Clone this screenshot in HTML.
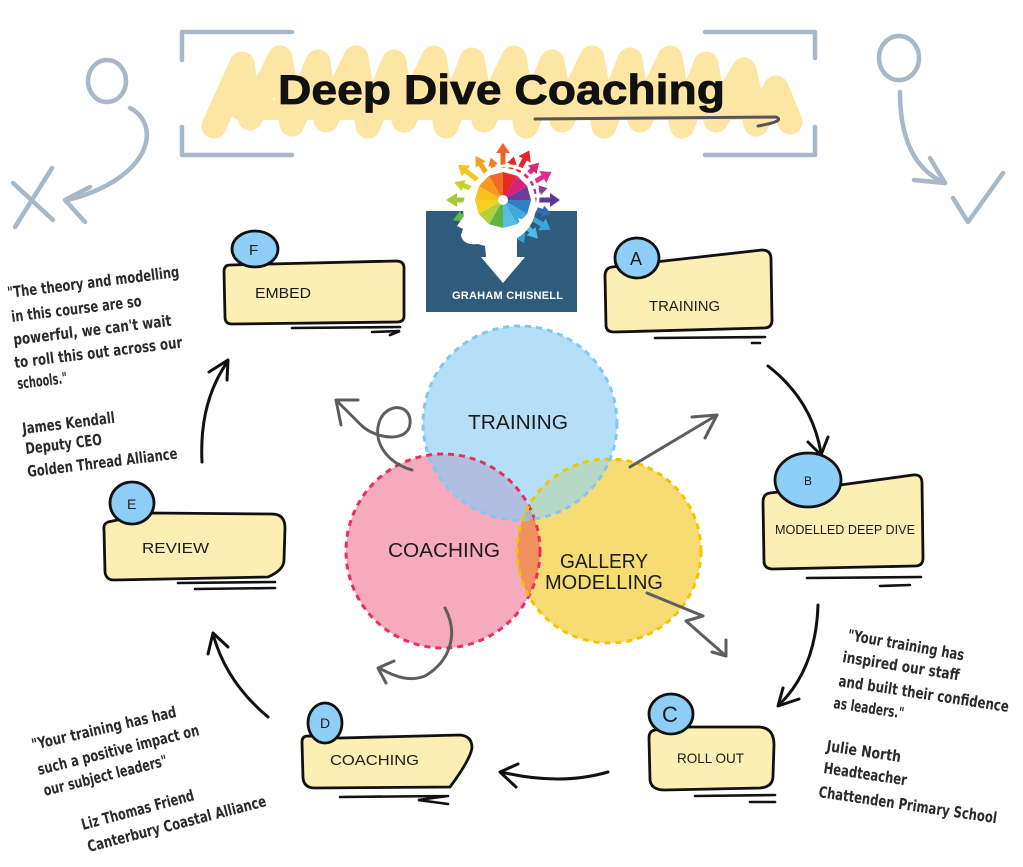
<!DOCTYPE html>
<html>
<head>
<meta charset="utf-8">
<style>
  html,body{margin:0;padding:0;background:#fff;}
  svg{display:block;}
  .lbl{font-family:"Liberation Sans",sans-serif;fill:#1c1c1c;}
  .q{font-family:"Liberation Sans Narrow","DejaVu Sans Condensed","Liberation Sans",sans-serif;font-weight:bold;fill:#2a2a2a;font-size:15.5px;}
  .box{fill:#fdeeb4;stroke:#111;stroke-width:2.8;stroke-linejoin:round;}
  .bub{fill:#8ecdf5;stroke:#111;stroke-width:2.8;}
  .ul{stroke:#111;stroke-width:2.6;stroke-linecap:round;fill:none;}
  .blk{stroke:#111;stroke-width:3;fill:none;stroke-linecap:round;stroke-linejoin:round;}
  .gry{stroke:#5e5e5e;stroke-width:3;fill:none;stroke-linecap:round;stroke-linejoin:round;}
  .deco{stroke:#a9b8c7;stroke-width:4.5;fill:none;stroke-linecap:round;stroke-linejoin:round;}
</style>
</head>
<body>
<svg width="1023" height="867" viewBox="0 0 1023 867" xmlns="http://www.w3.org/2000/svg">
  <rect x="0" y="0" width="1023" height="867" fill="#fff"/>

  <!-- Title scribble -->
  <path d="M214 126 L242 64 L250 118 L280 58 L292 124 L318 62 L326 120 L356 58 L368 126 L394 62 L404 120 L434 58 L446 126 L472 60 L484 120 L514 58 L526 126 L552 62 L562 120 L592 58 L604 126 L630 60 L640 120 L670 58 L682 126 L706 64 L716 120 L744 70 L756 124 L776 88 L790 122"
        fill="none" stroke="#fde6a4" stroke-width="25" stroke-linejoin="round" stroke-linecap="round"/>
  <path d="M240 110 L770 110" stroke="#fde6a4" stroke-width="20" stroke-linecap="round"/>
  <!-- Title brackets -->
  <path class="deco" d="M292 32 L182 32 L182 60 M182 127 L182 155 L292 155"/>
  <path class="deco" d="M705 32 L815 32 L815 58 M815 127 L815 155 L705 155"/>
  <text x="278" y="104" font-family="Liberation Sans, sans-serif" font-size="42" font-weight="bold" fill="#111" stroke="#111" stroke-width="0.8" textLength="447" lengthAdjust="spacingAndGlyphs">Deep Dive Coaching</text>
  <path d="M535 119 L776 117 Q786 121 758 126" fill="none" stroke="#555" stroke-width="3" stroke-linecap="round"/>

  <!-- Top-left deco -->
  <ellipse class="deco" cx="107" cy="81" rx="19" ry="21"/>
  <path class="deco" d="M130 108 C162 125 152 178 68 200"/>
  <path class="deco" d="M90 187 L65 200 L85 222"/>
  <path class="deco" d="M13 183 L53 220 M52 168 L15 227"/>
  <!-- Top-right deco -->
  <ellipse class="deco" cx="899" cy="58" rx="20" ry="22"/>
  <path class="deco" d="M900 92 C900 140 915 170 945 183"/>
  <path class="deco" d="M914 180 L945 183 L930 158"/>
  <path class="deco" d="M953 198 L968 222 L1003 173"/>

  <!-- Logo -->
  <rect x="426" y="211" width="151" height="101" fill="#2f5c7c"/>
  <g stroke-width="5" stroke-linecap="butt">
    <g transform="rotate(180 503 200)"><path d="M535 200 H550" stroke="#a6c83c"/><polygon points="549,193 560,200 549,207" fill="#a6c83c"/></g>
    <g transform="rotate(-160 503 200)"><path d="M535 200 H546" stroke="#c9d22a"/><polygon points="545,194 555,200 545,206" fill="#c9d22a"/></g>
    <g transform="rotate(-142 503 200)"><path d="M535 200 H551" stroke="#f7c51e"/><polygon points="550,193 560,200 550,207" fill="#f7c51e"/></g>
    <g transform="rotate(-122 503 200)"><path d="M535 200 H546" stroke="#f4a21d"/><polygon points="545,194 555,200 545,206" fill="#f4a21d"/></g>
    <g transform="rotate(-106 503 200)"><path d="M535 200 H540" stroke="#ef7d22"/><polygon points="539,195 547,200 539,205" fill="#ef7d22"/></g>
    <g transform="rotate(-90 503 200)"><path d="M535 200 H551" stroke="#e8682a"/><polygon points="550,193 560,200 550,207" fill="#e8682a"/></g>
    <g transform="rotate(-76 503 200)"><path d="M535 200 H541" stroke="#e32b2b"/><polygon points="540,195 548,200 540,205" fill="#e32b2b"/></g>
    <g transform="rotate(-62 503 200)"><path d="M535 200 H550" stroke="#e1262c"/><polygon points="549,193 559,200 549,207" fill="#e1262c"/></g>
    <g transform="rotate(-46 503 200)"><path d="M535 200 H546" stroke="#e4247a"/><polygon points="545,194 555,200 545,206" fill="#e4247a"/></g>
    <g transform="rotate(-30 503 200)"><path d="M535 200 H550" stroke="#e02e8e"/><polygon points="549,193 559,200 549,207" fill="#e02e8e"/></g>
    <g transform="rotate(-15 503 200)"><path d="M535 200 H542" stroke="#8a3c98"/><polygon points="541,195 549,200 541,205" fill="#8a3c98"/></g>
    <g transform="rotate(0 503 200)"><path d="M535 200 H551" stroke="#5b3a96"/><polygon points="550,193 560,200 550,207" fill="#5b3a96"/></g>
    <g transform="rotate(16 503 200)"><path d="M535 200 H545" stroke="#2f6db5"/><polygon points="544,194 553,200 544,206" fill="#2f6db5"/></g>
    <g transform="rotate(32 503 200)"><path d="M535 200 H550" stroke="#3aa5df"/><polygon points="549,193 559,200 549,207" fill="#3aa5df"/></g>
    <g transform="rotate(48 503 200)"><path d="M535 200 H546" stroke="#4dbde8"/><polygon points="545,194 555,200 545,206" fill="#4dbde8"/></g>
    <g transform="rotate(64 503 200)"><path d="M535 200 H543" stroke="#2aa3d8"/><polygon points="542,194 551,200 542,206" fill="#2aa3d8"/></g>
    <g transform="rotate(158 503 200)"><path d="M535 200 H548" stroke="#5cb946"/><polygon points="547,194 557,200 547,206" fill="#5cb946"/></g>
    <g transform="rotate(140 503 200)"><path d="M535 200 H543" stroke="#3aa047"/><polygon points="542,194 551,200 542,206" fill="#3aa047"/></g>
  </g>
  <!-- head silhouette -->
  <path d="M472 186 C462 196 462 208 464 216 L457 226 L463 229 L461 235 C462 243 470 245 478 244 L485 246 L486 257 L481 257 L503 283 L525 257 L517 257 L517 238 C528 232 536 220 536 205 C536 185 520 170 500 170 C488 170 478 177 472 186 Z" fill="#fff"/>
  <!-- wheel -->
  <g>
    <path d="M503 200 L531 200 L527.2 214 Z" fill="#2f7fc4"/>
    <path d="M503 200 L527.2 214 L517 224.2 Z" fill="#3fa9e0"/>
    <path d="M503 200 L517 224.2 L503 228 Z" fill="#57bde0"/>
    <path d="M503 200 L503 228 L489 224.2 Z" fill="#5db548"/>
    <path d="M503 200 L489 224.2 L478.8 214 Z" fill="#b3cf3a"/>
    <path d="M503 200 L478.8 214 L475 200 Z" fill="#f5d020"/>
    <path d="M503 200 L475 200 L478.8 186 Z" fill="#f8c21c"/>
    <path d="M503 200 L478.8 186 L489 175.8 Z" fill="#f59a1f"/>
    <path d="M503 200 L489 175.8 L503 172 Z" fill="#ee6b25"/>
    <path d="M503 200 L503 172 L517 175.8 Z" fill="#e42b2a"/>
    <path d="M503 200 L517 175.8 L527.2 186 Z" fill="#d8217c"/>
    <path d="M503 200 L527.2 186 L531 200 Z" fill="#6d3c97"/>
    <circle cx="503" cy="200" r="5" fill="#fff"/>
  </g>
  <path d="M478 186 A31 31 0 1 1 525 222" fill="none" stroke="#fff" stroke-width="3"/>
  <polygon points="518,218 531,222 524,232" fill="#fff"/>
  <text x="452" y="299" font-family="Liberation Sans, sans-serif" font-size="11" font-weight="bold" fill="#fff" textLength="111" lengthAdjust="spacing">GRAHAM CHISNELL</text>

  <!-- Venn -->
  <defs>
    <clipPath id="cBlue"><circle cx="520" cy="423" r="97"/></clipPath>
    <clipPath id="cPink"><circle cx="443" cy="551" r="97"/></clipPath>
    <clipPath id="cYel"><circle cx="609" cy="551" r="92"/></clipPath>
  </defs>
  <circle cx="443" cy="551" r="97" fill="#f5aabe"/>
  <circle cx="609" cy="551" r="92" fill="#f6dc72"/>
  <circle cx="520" cy="423" r="97" fill="#b5dff8"/>
  <g clip-path="url(#cBlue)"><circle cx="443" cy="551" r="97" fill="#b0bee2"/></g>
  <g clip-path="url(#cBlue)"><circle cx="609" cy="551" r="92" fill="#b6d9c6"/></g>
  <g clip-path="url(#cPink)"><circle cx="609" cy="551" r="92" fill="#f0915e"/></g>
  <g clip-path="url(#cPink)"><g clip-path="url(#cYel)"><circle cx="520" cy="423" r="97" fill="#b0b4b6"/></g></g>
  <circle cx="443" cy="551" r="97" fill="none" stroke="#e8305a" stroke-width="3" stroke-dasharray="6 5"/>
  <circle cx="609" cy="551" r="92" fill="none" stroke="#f2c500" stroke-width="3" stroke-dasharray="6 5"/>
  <circle cx="520" cy="423" r="97" fill="none" stroke="#7ec8f2" stroke-width="3" stroke-dasharray="6 5"/>
  <text class="lbl" x="468" y="429" font-size="20" textLength="100" lengthAdjust="spacingAndGlyphs">TRAINING</text>
  <text class="lbl" x="388" y="557" font-size="20" textLength="112" lengthAdjust="spacingAndGlyphs">COACHING</text>
  <text class="lbl" x="560" y="568" font-size="20" textLength="88" lengthAdjust="spacingAndGlyphs">GALLERY</text>
  <text class="lbl" x="545" y="589" font-size="20" textLength="118" lengthAdjust="spacingAndGlyphs">MODELLING</text>

  <!-- Gray arrows -->
  <path class="gry" d="M412 470 C385 462 372 440 380 420 C388 402 412 404 410 424 C408 442 378 440 362 426 L337 401"/>
  <path class="gry" d="M358 400 L336 400 L341 425"/>
  <path class="gry" d="M630 467 L717 415"/>
  <path class="gry" d="M692 417 L717 415 L705 438"/>
  <path class="gry" d="M647 593 L703 616 L686 621 L726 656"/>
  <path class="gry" d="M726 640 L726 656 L712 652"/>
  <path class="gry" d="M445 608 C458 632 452 660 425 676 C410 682 395 677 379 668"/>
  <path class="gry" d="M394 661 L378 668 L386 683"/>

  <!-- Black cycle arrows -->
  <path class="blk" d="M768 366 Q812 400 821 453"/>
  <path class="blk" d="M808 442 L821 455 L828 437"/>
  <path class="blk" d="M818 605 Q816 668 780 704"/>
  <path class="blk" d="M783 688 L778 706 L799 699"/>
  <path class="blk" d="M608 772 Q560 786 501 772"/>
  <path class="blk" d="M518 764 L500 772 L516 787"/>
  <path class="blk" d="M268 717 Q226 682 213 634"/>
  <path class="blk" d="M208 654 L213 633 L228 647"/>
  <path class="blk" d="M202 462 Q199 402 228 361"/>
  <path class="blk" d="M209 372 L228 360 L227 380"/>

  <!-- Box F : EMBED -->
  <path class="box" d="M270 264 L396 261 Q404 261 404 268 L404 316 Q404 322 397 322 L232 324 Q225 324 225 317 L224 272 Q224 265 230 265 Z"/>
  <ellipse class="bub" cx="255" cy="249" rx="23" ry="18"/>
  <text class="lbl" x="255" y="298" font-size="15" textLength="56" lengthAdjust="spacingAndGlyphs">EMBED</text>
  <text class="lbl" x="249" y="255" font-size="15">F</text>
  <path class="ul" d="M292 328 L400 327 M372 332 L400 331 L390 335"/>

  <!-- Box A : TRAINING -->
  <path class="box" d="M655 262 L762 250 Q771 250 771 259 L772 320 Q772 328 764 328 L614 332 Q606 332 606 325 L605 276 Q605 268 612 267 Z"/>
  <ellipse class="bub" cx="637" cy="258" rx="22" ry="20"/>
  <text class="lbl" x="649" y="311" font-size="15" textLength="71" lengthAdjust="spacingAndGlyphs">TRAINING</text>
  <text class="lbl" x="630" y="265" font-size="18">A</text>
  <path class="ul" d="M655 338 L765 337 M752 343 L760 343"/>

  <!-- Box B : MODELLED DEEP DIVE -->
  <path class="box" d="M840 485 L913 475 Q922 474 922 483 L923 558 Q923 566 915 566 L773 569 Q764 569 764 561 L763 502 Q763 494 770 493 Z"/>
  <ellipse class="bub" cx="808" cy="480" rx="33" ry="27"/>
  <text class="lbl" x="775" y="534" font-size="13" textLength="140" lengthAdjust="spacingAndGlyphs">MODELLED DEEP DIVE</text>
  <text class="lbl" x="804" y="485" font-size="12">B</text>
  <path class="ul" d="M807 578 L921 577 M880 586 L910 585"/>

  <!-- Box C : ROLL OUT -->
  <path class="box" d="M690 727 L758 727 Q774 727 774 745 L773 776 Q773 787 760 788 L665 790 Q651 790 650 780 L649 738 Q649 731 655 730 Z"/>
  <ellipse class="bub" cx="671" cy="714" rx="22" ry="20"/>
  <text class="lbl" x="677" y="763" font-size="14" textLength="67" lengthAdjust="spacingAndGlyphs">ROLL OUT</text>
  <text class="lbl" x="662" y="722" font-size="22">C</text>
  <path class="ul" d="M695 796 L775 795 M750 802 L775 802"/>

  <!-- Box D : COACHING -->
  <path class="box" d="M340 738 L460 735 Q472 736 472 748 Q470 760 450 787 L315 788 Q304 788 303 778 L302 742 Q302 736 308 736 Z"/>
  <ellipse class="bub" cx="325" cy="723" rx="17" ry="20"/>
  <text class="lbl" x="330" y="765" font-size="15" textLength="89" lengthAdjust="spacingAndGlyphs">COACHING</text>
  <text class="lbl" x="320" y="728" font-size="14">D</text>
  <path class="ul" d="M340 797 L448 796 M448 796 L418 800 L448 804"/>

  <!-- Box E : REVIEW -->
  <path class="box" d="M150 513 L272 514 Q285 514 285 528 L284 560 Q284 570 268 577 L114 580 Q106 580 105 572 L104 530 Q103 524 108 522 Z"/>
  <ellipse class="bub" cx="132" cy="503" rx="22" ry="21"/>
  <text class="lbl" x="142" y="553" font-size="15" textLength="67" lengthAdjust="spacingAndGlyphs">REVIEW</text>
  <text class="lbl" x="127" y="509" font-size="14">E</text>
  <path class="ul" d="M178 583 L275 582 M195 589 L275 588"/>

  <!-- Quote 1 -->
  <g transform="rotate(-7 8 298)"><text class="q" x="8" y="298" textLength="173" lengthAdjust="spacingAndGlyphs">"The theory and modelling</text></g>
  <g transform="rotate(-7 12 322)"><text class="q" x="12" y="322" textLength="131" lengthAdjust="spacingAndGlyphs">in this course are so</text></g>
  <g transform="rotate(-7 14 345)"><text class="q" x="14" y="345" textLength="159" lengthAdjust="spacingAndGlyphs">powerful, we can't wait</text></g>
  <g transform="rotate(-7 15 368)"><text class="q" x="15" y="368" textLength="169" lengthAdjust="spacingAndGlyphs">to roll this out across our</text></g>
  <g transform="rotate(-7 18 389)"><text class="q" x="18" y="389" textLength="50" lengthAdjust="spacingAndGlyphs">schools."</text></g>
  <g transform="rotate(-7 23 434)"><text class="q" x="23" y="434" textLength="93" lengthAdjust="spacingAndGlyphs">James Kendall</text></g>
  <g transform="rotate(-7 26 454)"><text class="q" x="26" y="454" textLength="77" lengthAdjust="spacingAndGlyphs">Deputy CEO</text></g>
  <g transform="rotate(-7 28 477)"><text class="q" x="28" y="477" textLength="151" lengthAdjust="spacingAndGlyphs">Golden Thread Alliance</text></g>

  <!-- Quote 2 -->
  <g transform="rotate(-13 33 750)"><text class="q" x="33" y="750" textLength="148" lengthAdjust="spacingAndGlyphs">"Your training has had</text></g>
  <g transform="rotate(-14 39 775)"><text class="q" x="39" y="775" textLength="166" lengthAdjust="spacingAndGlyphs">such a positive impact on</text></g>
  <g transform="rotate(-14 45 796)"><text class="q" x="45" y="796" textLength="127" lengthAdjust="spacingAndGlyphs">our subject leaders"</text></g>
  <g transform="rotate(-15 83 830)"><text class="q" x="83" y="830" textLength="116" lengthAdjust="spacingAndGlyphs">Liz Thomas Friend</text></g>
  <g transform="rotate(-14.5 89 852)"><text class="q" x="89" y="852" textLength="184" lengthAdjust="spacingAndGlyphs">Canterbury Coastal Alliance</text></g>

  <!-- Quote 3 -->
  <g transform="rotate(10 847 640)"><text class="q" x="847" y="640" textLength="118" lengthAdjust="spacingAndGlyphs">"Your training has</text></g>
  <g transform="rotate(9 842 662)"><text class="q" x="842" y="662" textLength="118" lengthAdjust="spacingAndGlyphs">inspired our staff</text></g>
  <g transform="rotate(8.7 838 686)"><text class="q" x="838" y="686" textLength="172" lengthAdjust="spacingAndGlyphs">and built their confidence</text></g>
  <g transform="rotate(8.5 833 708)"><text class="q" x="833" y="708" textLength="71" lengthAdjust="spacingAndGlyphs">as leaders."</text></g>
  <g transform="rotate(8.5 826 751)"><text class="q" x="826" y="751" textLength="75" lengthAdjust="spacingAndGlyphs">Julie North</text></g>
  <g transform="rotate(8.5 823 773)"><text class="q" x="823" y="773" textLength="84" lengthAdjust="spacingAndGlyphs">Headteacher</text></g>
  <g transform="rotate(8.4 818 797)"><text class="q" x="818" y="797" textLength="180" lengthAdjust="spacingAndGlyphs">Chattenden Primary School</text></g>
</svg>
</body>
</html>
